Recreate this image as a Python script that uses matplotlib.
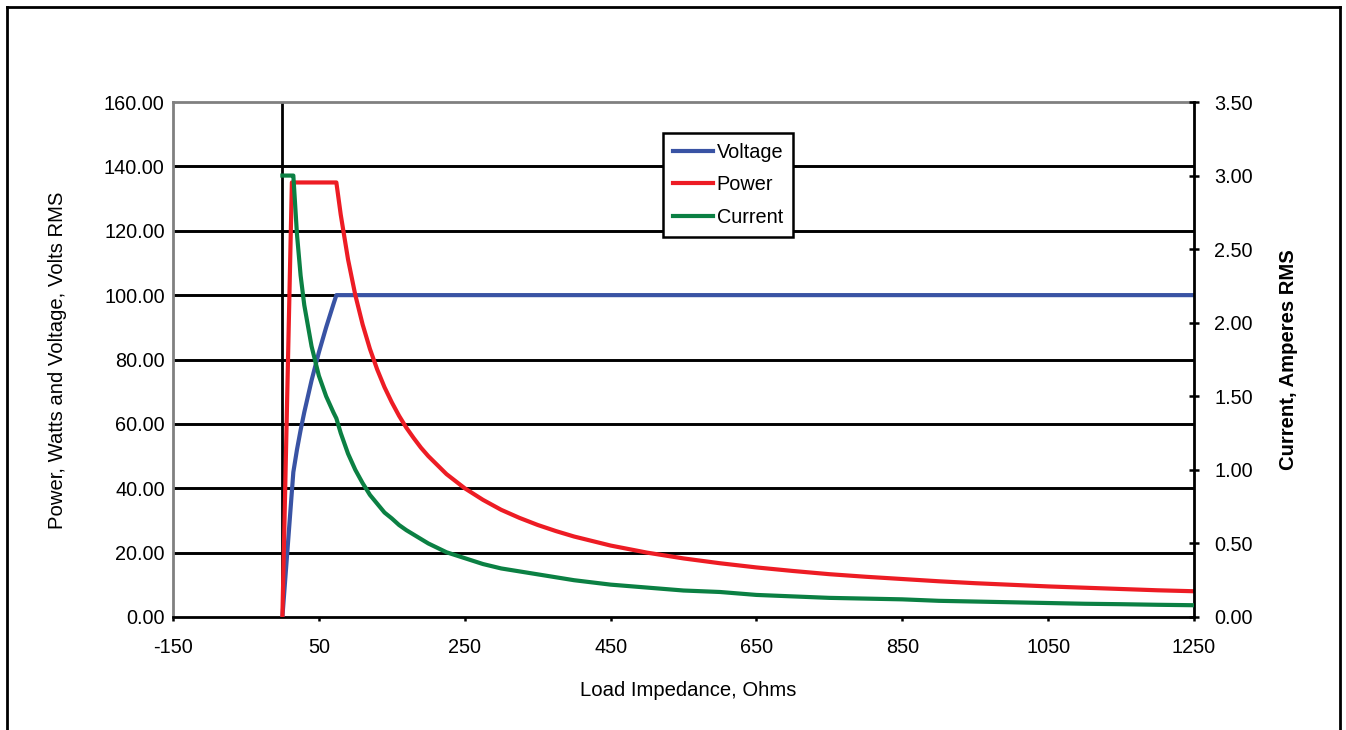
import matplotlib
matplotlib.use("Agg")
import matplotlib.pyplot as plt
from matplotlib.lines import Line2D

plt.rcParams['font.family'] = ['Liberation Sans', 'DejaVu Sans']

# Load impedance (ohms)
impedance = [0, 13, 15, 20, 25, 30, 40, 50, 60, 70, 74, 80, 90, 100, 110, 120, 130,
             140, 150, 160, 170, 180, 190, 200, 225, 250, 275, 300, 325, 350, 375,
             400, 450, 500, 550, 600, 650, 700, 750, 800, 850, 900, 950, 1000,
             1050, 1100, 1150, 1200, 1250]

# Power, watts
power = [0, 135, 135, 135, 135, 135, 135, 135, 135, 135, 135, 125, 111.1, 100, 90.9,
         83.3, 76.9, 71.4, 66.7, 62.5, 58.8, 55.6, 52.6, 50, 44.4, 40, 36.4, 33.3,
         30.8, 28.6, 26.7, 25, 22.2, 20, 18.2, 16.7, 15.4, 14.3, 13.3, 12.5, 11.8,
         11.1, 10.5, 10, 9.5, 9.1, 8.7, 8.3, 8.0]

# Voltage, volts RMS
voltage = [0, 39, 45, 52, 58.1, 63.6, 73.5, 82.2, 90, 97.2, 100, 100, 100, 100, 100,
           100, 100, 100, 100, 100, 100, 100, 100, 100, 100, 100, 100, 100, 100, 100,
           100, 100, 100, 100, 100, 100, 100, 100, 100, 100, 100, 100, 100, 100, 100,
           100, 100, 100, 100]

# Current, amperes RMS
current = [3.0, 3.0, 3.0, 2.60, 2.32, 2.12, 1.84, 1.64, 1.50, 1.39, 1.35, 1.25, 1.11,
           1.0, 0.91, 0.83, 0.77, 0.71, 0.67, 0.625, 0.59, 0.56, 0.53, 0.50, 0.44,
           0.40, 0.36, 0.33, 0.31, 0.29, 0.27, 0.25, 0.22, 0.20, 0.18, 0.17, 0.15,
           0.14, 0.13, 0.125, 0.12, 0.11, 0.105, 0.10, 0.095, 0.09, 0.087, 0.083, 0.08]

x_ticks = [-150, 50, 250, 450, 650, 850, 1050, 1250]
left_ticks = [0, 20, 40, 60, 80, 100, 120, 140, 160]
right_ticks = [0, 0.5, 1.0, 1.5, 2.0, 2.5, 3.0, 3.5]

C_V = '#3953A4'
C_P = '#ED1C24'
C_I = '#0B8043'
FS = 14.3
FL = 14.6

fig = plt.figure(figsize=(13.46, 7.30), dpi=100)
ax = fig.add_axes([173/1346, 1-617/730, (1194-173)/1346, (617-102)/730])
ax2 = ax.twinx()

# gridlines
for t in left_ticks[1:-1]:
    ax.axhline(t, color='black', lw=2.1, zorder=1)
ax.axvline(0, color='black', lw=2.0, zorder=1)

ax.plot(impedance, voltage, color=C_V, lw=3.0, zorder=3, solid_joinstyle='round')
ax.plot(impedance, power, color=C_P, lw=3.0, zorder=3, solid_joinstyle='round')
ax2.plot(impedance, current, color=C_I, lw=3.0, zorder=3, solid_joinstyle='round')

ax.set_xlim(-150, 1250)
ax.set_ylim(0, 160)
ax2.set_ylim(0, 3.5)
ax.set_xticks(x_ticks)
ax.set_xticklabels([str(v) for v in x_ticks], fontsize=FS)
ax.set_yticks(left_ticks)
ax.set_yticklabels([f"{v:.2f}" for v in left_ticks], fontsize=FS)
ax2.set_yticks(right_ticks)
ax2.set_yticklabels([f"{v:.2f}" for v in right_ticks], fontsize=FS)

ax.tick_params(axis='y', length=0, pad=6)
ax.tick_params(axis='x', direction='out', length=3, width=1.8, pad=12, color='black')
ax2.tick_params(axis='y', direction='inout', length=7, width=1.8, pad=11, color='black')

for a in (ax, ax2):
    a.spines['left'].set_color('#808080')
    a.spines['top'].set_color('#808080')
    a.spines['bottom'].set_color('black')
    a.spines['right'].set_color('black')
    for s in a.spines.values():
        s.set_linewidth(2.0)
ax2.spines['left'].set_visible(False)
ax2.spines['top'].set_visible(False)
ax2.spines['bottom'].set_visible(False)
ax.spines['right'].set_visible(False)

handles = [Line2D([], [], color=C_V, lw=3.0),
           Line2D([], [], color=C_P, lw=3.0),
           Line2D([], [], color=C_I, lw=3.0)]
leg = ax2.legend(handles, ['Voltage', 'Power', 'Current'], loc='upper left',
                 bbox_to_anchor=(0.48, 0.940), fontsize=FS, frameon=True,
                 fancybox=False, shadow=False, handlelength=2.0, handletextpad=0.2,
                 labelspacing=0.68, borderpad=0.5, borderaxespad=0.0)
leg.get_frame().set_edgecolor('black')
leg.get_frame().set_linewidth(1.8)
leg.get_frame().set_alpha(1.0)
leg.set_zorder(10)

fig.text(57.5/1346, 1-360/730, 'Power, Watts and Voltage, Volts RMS', rotation=90,
         ha='center', va='center', fontsize=FL)
fig.text(1289/1346, 1-360/730, 'Current, Amperes RMS', rotation=90,
         ha='center', va='center', fontsize=FL, fontweight='bold')
fig.text(688.5/1346, 1-691/730, 'Load Impedance, Ohms', ha='center', va='center',
         fontsize=FL)

# outer border
fig.add_artist(Line2D([7/1346, 7/1346], [0, 1-7/730], color='black', lw=2.0,
                      transform=fig.transFigure))
fig.add_artist(Line2D([7/1346, 1340/1346], [1-7/730, 1-7/730], color='black', lw=2.0,
                      transform=fig.transFigure))
fig.add_artist(Line2D([1340/1346, 1340/1346], [0, 1-7/730], color='black', lw=2.0,
                      transform=fig.transFigure))

fig.savefig('out.png', dpi=100)
